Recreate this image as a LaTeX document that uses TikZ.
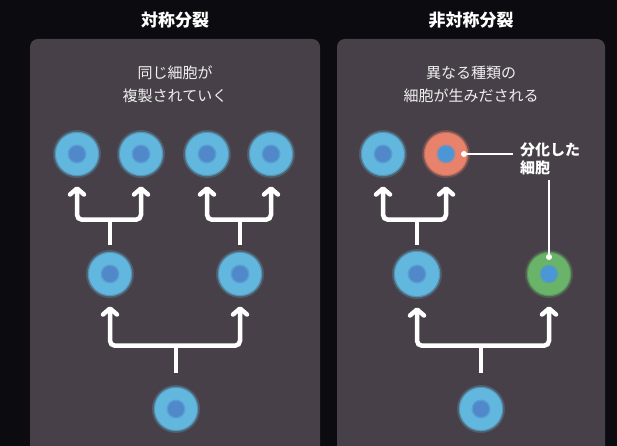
\documentclass[tikz,border=0pt]{standalone}
\usepackage{fontspec}
\newfontfamily\jp{Noto Sans CJK JP}
\usetikzlibrary{arrows.meta}
\definecolor{bgc}{RGB}{12,11,16}
\definecolor{panelc}{RGB}{71,64,72}
\definecolor{cellblue}{RGB}{98,183,222}
\definecolor{nucblue}{RGB}{80,136,202}
\definecolor{nucbright}{RGB}{74,150,214}
\definecolor{cellred}{RGB}{232,130,106}
\definecolor{cellgreen}{RGB}{106,180,106}
\begin{document}
\begin{tikzpicture}[x=1pt,y=1pt,
  panel/.style={fill=panelc, rounded corners=8pt},
  title/.style={text=white, font=\jp\bfseries\fontsize{17}{20}\selectfont},
  caption/.style={text=white!92!panelc, align=center, font=\jp\fontsize{15}{23}\selectfont},
  % cells with a soft outer edge
  cell/.style={circle, minimum size=42pt, inner sep=0pt, fill=#1,
      preaction={draw=#1, draw opacity=0.25, line width=6pt},
      draw=#1, draw opacity=0.6, line width=2.5pt},
  nuc/.style={path picture={
      \fill[#1, opacity=0.5] (path picture bounding box.center) circle (9.5pt);
      \fill[#1] (path picture bounding box.center) circle (8pt);}},
  branch/.style={draw=white, line width=4.5pt, rounded corners=5pt,
      {Straight Barb[round, length=6pt, width=14pt]}-{Straight Barb[round, length=6pt, width=14pt]}},
  stem/.style={draw=white, line width=4.5pt},
  callout/.style={draw=white, line width=1.4pt},
  dotmark/.style={circle, fill=white, inner sep=0pt, minimum size=6pt},
  label/.style={text=white, align=left, inner sep=0pt, font=\jp\bfseries\fontsize{15}{18}\selectfont}]

% page and background
\useasboundingbox (0,0) rectangle (617,446);
\fill[bgc] (0,0) rectangle (617,446);

% two panels
\path[panel] (30,-20) -- (30,407) -- (320,407) -- (320,-20) -- cycle;
\path[panel] (337,-20) -- (337,407) -- (605,407) -- (605,-20) -- cycle;

% headings
\node[title] (tL) at (175,426) {対称分裂};
\node[title] (tR) at (471,426) {非対称分裂};
\node[caption] (cL) at (175,362) {同じ細胞が\\複製されていく};
\node[caption] (cR) at (471,362) {異なる種類の\\細胞が生みだされる};

% symmetric division: cells
\node[cell=cellblue, nuc=nucblue] (L0)  at (176,37)  {};
\node[cell=cellblue, nuc=nucblue] (L1)  at (110,172) {};
\node[cell=cellblue, nuc=nucblue] (L2)  at (240,172) {};
\node[cell=cellblue, nuc=nucblue] (L11) at (77,292)  {};
\node[cell=cellblue, nuc=nucblue] (L12) at (141,292) {};
\node[cell=cellblue, nuc=nucblue] (L21) at (207,292) {};
\node[cell=cellblue, nuc=nucblue] (L22) at (271,292) {};

% asymmetric division: cells
\node[cell=cellblue, nuc=nucblue]    (R0)  at (481,37)  {};
\node[cell=cellblue, nuc=nucblue, minimum size=44pt] (R1) at (417,172) {};
\node[cell=cellgreen, nuc=nucbright] (R2)  at (549,172) {};
\node[cell=cellblue, nuc=nucblue]    (R11) at (383,292) {};
\node[cell=cellred, nuc=nucbright]   (R12) at (446,292) {};

% symmetric division: branching arrows
\draw[stem] ([yshift=14pt]L0.north) -- ++(0,27) coordinate (jL0);
\draw[branch] ([yshift=-10pt]L1.south) |- (jL0) -| ([yshift=-10pt]L2.south);
\draw[stem] ([yshift=7pt]L1.north) -- ++(0,25) coordinate (jL1);
\draw[branch] ([yshift=-10pt]L11.south) |- (jL1) -| ([yshift=-10pt]L12.south);
\draw[stem] ([yshift=7pt]L2.north) -- ++(0,25) coordinate (jL2);
\draw[branch] ([yshift=-10pt]L21.south) |- (jL2) -| ([yshift=-10pt]L22.south);

% asymmetric division: branching arrows
\draw[stem] ([yshift=14pt]R0.north) -- ++(0,27) coordinate (jR0);
\draw[branch] ([yshift=-10pt]R1.south) |- (jR0) -| ([yshift=-10pt]R2.south);
\draw[stem] ([yshift=6pt]R1.north) -- ++(0,25) coordinate (jR1);
\draw[branch] ([yshift=-10pt]R11.south) |- (jR1) -| ([yshift=-10pt]R12.south);

% label for the differentiated cells
\node[label, anchor=north west] (diff) at (520,303) {分化した\\細胞};
\node[dotmark] (d1) at ([xshift=18pt]R12.center) {};
\node[dotmark] (d2) at ([yshift=17pt]R2.center) {};
\draw[callout] (d1.center) -- ([xshift=-7pt]d1.center -| diff.west);
\draw[callout] (d2.center) -- ([yshift=-4pt]d2.center |- diff.south);
\end{tikzpicture}
\end{document}
